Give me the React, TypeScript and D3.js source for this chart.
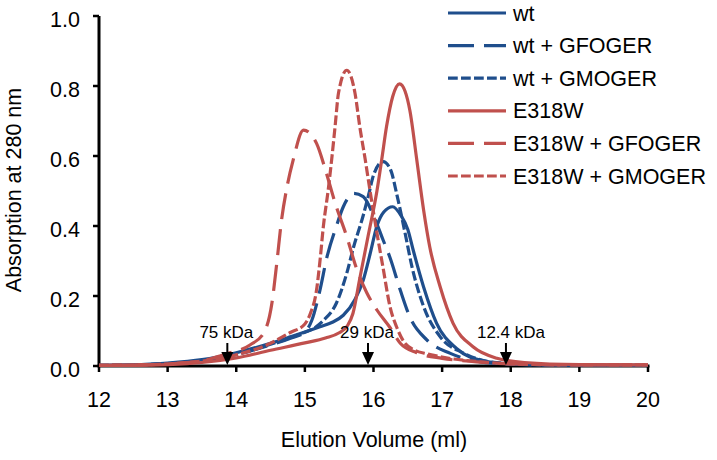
import React from 'react';
import * as d3 from 'd3';

type Pt = [number, number];

// ---- Data (elution volume ml, absorption at 280 nm) ----
const wt: Pt[] = [
  [12, 0.002], [12.5, 0.003], [13, 0.008], [13.5, 0.018], [14, 0.038], [14.5, 0.065],
  [14.8, 0.084], [15.0, 0.097], [15.22, 0.112], [15.4, 0.125], [15.56, 0.145], [15.73, 0.19],
  [15.85, 0.245], [15.95, 0.32], [16.05, 0.4], [16.15, 0.44], [16.28, 0.455], [16.4, 0.43],
  [16.5, 0.39], [16.58, 0.33], [16.73, 0.226], [16.92, 0.122], [17.21, 0.05], [17.6, 0.015],
  [18, 0.006], [18.5, 0.003], [19, 0.002], [20, 0.002],
];
const wtGFOGER: Pt[] = [
  [12, 0.002], [12.5, 0.003], [13, 0.007], [13.5, 0.015], [14, 0.033], [14.5, 0.06],
  [14.8, 0.08], [15.0, 0.097], [15.1, 0.13], [15.22, 0.217], [15.32, 0.31], [15.46, 0.4],
  [15.56, 0.455], [15.71, 0.493], [15.85, 0.484], [16.0, 0.43], [16.14, 0.36], [16.24, 0.31],
  [16.39, 0.217], [16.53, 0.14], [16.78, 0.074], [17.12, 0.036], [17.5, 0.014], [18, 0.005],
  [19, 0.002], [20, 0.002],
];
const wtGMOGER: Pt[] = [
  [12, 0.002], [12.5, 0.003], [13, 0.007], [13.5, 0.015], [14, 0.033], [14.5, 0.062],
  [14.98, 0.095], [15.15, 0.11], [15.27, 0.13], [15.46, 0.18], [15.61, 0.265], [15.71, 0.34],
  [15.85, 0.43], [15.93, 0.49], [16.0, 0.545], [16.14, 0.584], [16.25, 0.56], [16.34, 0.49],
  [16.46, 0.38], [16.56, 0.284], [16.73, 0.17], [16.97, 0.084], [17.31, 0.037], [17.7, 0.012],
  [18.2, 0.005], [19, 0.002], [20, 0.002],
];
const e318w: Pt[] = [
  [12, 0.002], [12.5, 0.002], [13, 0.004], [13.5, 0.01], [14, 0.023], [14.5, 0.045],
  [15, 0.066], [15.3, 0.08], [15.5, 0.095], [15.62, 0.115], [15.7, 0.15], [15.8, 0.25],
  [15.92, 0.37], [16.05, 0.5], [16.12, 0.59], [16.19, 0.684], [16.28, 0.77], [16.38, 0.806],
  [16.46, 0.785], [16.53, 0.73], [16.63, 0.59], [16.73, 0.446], [16.82, 0.34], [16.97, 0.227],
  [17.16, 0.122], [17.45, 0.055], [17.8, 0.022], [18.2, 0.01], [19, 0.004], [20, 0.003],
];
const e318wGFOGER: Pt[] = [
  [12, 0.002], [12.5, 0.003], [13, 0.006], [13.47, 0.014], [13.86, 0.035], [14.2, 0.06],
  [14.4, 0.094], [14.52, 0.18], [14.59, 0.293], [14.66, 0.417], [14.74, 0.512], [14.83, 0.589],
  [14.98, 0.674], [15.17, 0.636], [15.3, 0.56], [15.45, 0.46], [15.61, 0.37], [15.75, 0.28],
  [15.9, 0.21], [16.05, 0.16], [16.24, 0.11], [16.39, 0.065], [16.63, 0.038], [17.0, 0.022],
  [17.5, 0.012], [18, 0.006], [19, 0.003], [20, 0.003],
];
const e318wGMOGER: Pt[] = [
  [12, 0.002], [12.5, 0.003], [13, 0.006], [13.5, 0.014], [14, 0.032], [14.5, 0.065],
  [14.78, 0.095], [15.0, 0.12], [15.08, 0.15], [15.17, 0.217], [15.22, 0.3], [15.27, 0.4],
  [15.34, 0.503], [15.39, 0.589], [15.44, 0.684], [15.49, 0.78], [15.61, 0.845], [15.73, 0.78],
  [15.8, 0.684], [15.88, 0.589], [15.95, 0.5], [16.05, 0.38], [16.14, 0.28], [16.24, 0.17],
  [16.34, 0.11], [16.44, 0.07], [16.6, 0.045], [16.78, 0.035], [17.1, 0.022], [17.5, 0.013],
  [18, 0.006], [19, 0.003], [20, 0.003],
];

const seriesNames = ['wt', 'wt + GFOGER', 'wt + GMOGER', 'E318W', 'E318W + GFOGER', 'E318W + GMOGER'];
const seriesData = [wt, wtGFOGER, wtGMOGER, e318w, e318wGFOGER, e318wGMOGER];

const xTicks = [12, 13, 14, 15, 16, 17, 18, 19, 20];
const yTicks = [0, 0.2, 0.4, 0.6, 0.8, 1.0];

const markerLabels = ['75 kDa', '29 kDa', '12.4 kDa'];
const markerVolumes = [13.87, 15.92, 17.93];

// ---- Styles ----
const BLUE = '#1f4e8c';
const RED = '#c0504d';
const seriesColors = [BLUE, BLUE, BLUE, RED, RED, RED];
const LW = 3.2;
const dashes = ['none', '26,10', '9.75,3.25', 'none', '26,10', '9.75,3.25'];
const FONT = '"Liberation Sans", Arial, sans-serif';

export default function App() {
  const W = 717, H = 460;
  const x = d3.scaleLinear().domain([12, 20]).range([99, 648]);
  const y = d3.scaleLinear().domain([0, 1]).range([366, 16]);
  const line = d3.line<Pt>().x(d => x(d[0])).y(d => y(d[1])).curve(d3.curveMonotoneX);

  const legendX0 = 448, legendX1 = 506, legendY0 = 13, legendStep = 32.6;

  return (
    <svg width={W} height={H} style={{ position: 'absolute', left: 0, top: 0, background: '#fff' }}
      fontFamily={FONT}>
      <rect width={W} height={H} fill="#fff" />
      {/* axes */}
      <line x1={x(12)} x2={x(12)} y1={y(1)} y2={y(0)} stroke="#000" strokeWidth={3} />
      <line x1={x(12) - 1.5} x2={x(20) + 1.5} y1={y(0)} y2={y(0)} stroke="#000" strokeWidth={3} />
      {yTicks.map(t => (
        <g key={'y' + t}>
          <line x1={x(12) - 6} x2={x(12)} y1={y(t)} y2={y(t)} stroke="#000" strokeWidth={2.5} />
          <text x={80} y={y(t) + 10.5} textAnchor="end" fontSize={21.5} fill="#000">{t.toFixed(1)}</text>
        </g>
      ))}
      {xTicks.map(t => (
        <g key={'x' + t}>
          <line x1={x(t)} x2={x(t)} y1={y(0)} y2={y(0) + 6} stroke="#000" strokeWidth={2.5} />
          <text x={x(t)} y={407} textAnchor="middle" fontSize={21.5} fill="#000">{t}</text>
        </g>
      ))}
      <text x={374} y={447} textAnchor="middle" fontSize={21.5} fill="#000">Elution Volume (ml)</text>
      <text transform={`translate(21,190) rotate(-90)`} textAnchor="middle" fontSize={21.5} fill="#000">
        Absorption at 280 nm
      </text>

      {/* series */}
      {seriesData.map((d, i) => (
        <path key={'s' + i} d={line(d) || ''} fill="none" stroke={seriesColors[i]} strokeWidth={LW}
          strokeDasharray={dashes[i]} strokeLinejoin="round" />
      ))}

      {/* marker arrows */}
      {markerVolumes.map((v, i) => {
        const ax = x(v);
        const base = y(0);
        return (
          <g key={'m' + i}>
            <text x={ax + (i === 2 ? 5 : -1)} y={338} textAnchor="middle" fontSize={17} fill="#000">
              {markerLabels[i]}
            </text>
            <line x1={ax} x2={ax} y1={343} y2={354} stroke="#000" strokeWidth={2} />
            <path d={`M${ax - 6},${base - 14} L${ax + 6},${base - 14} L${ax},${base - 1} Z`} fill="#000" />
          </g>
        );
      })}

      {/* legend */}
      {seriesNames.map((n, i) => {
        const ly = legendY0 + i * legendStep;
        return (
          <g key={'l' + i}>
            <line x1={legendX0} x2={legendX1} y1={ly} y2={ly} stroke={seriesColors[i]} strokeWidth={LW}
              strokeDasharray={dashes[i]} />
            <text x={513} y={ly + 7.5} fontSize={21.5} fill="#000">{n}</text>
          </g>
        );
      })}
    </svg>
  );
}
